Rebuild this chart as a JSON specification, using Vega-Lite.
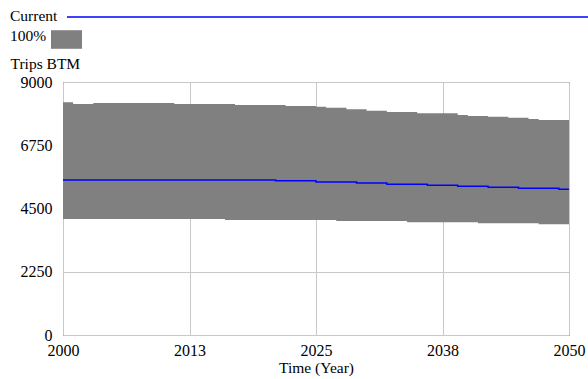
{
  "$schema": "https://vega.github.io/schema/vega-lite/v6.json",
  "width": 506,
  "height": 253,
  "autosize": {"type": "none"},
  "padding": {"left": 63, "top": 82, "right": 19, "bottom": 44},
  "background": "white",
  "config": {
    "font": "Liberation Serif",
    "view": {"stroke": "#222222", "strokeWidth": 1},
    "axis": {
      "grid": true, "gridColor": "#c8c8c8", "gridWidth": 1, "ticks": false, "domain": false,
      "labelFont": "Liberation Serif", "labelFontSize": 16, "labelColor": "#000000",
      "titleFont": "Liberation Serif", "titleFontSize": 15.5, "titleFontWeight": "normal", "titleColor": "#000000",
      "zindex": 1
    },
    "legend": {
      "titleFont": "Liberation Serif", "titleFontSize": 15.5, "titleFontWeight": "normal", "titleColor": "#000000",
      "labelFontSize": 1
    }
  },
  "data": {"values": [
    {"year": 2000, "hi": 8279, "lo": 4126, "cur": 5514},
    {"year": 2001, "hi": 8218, "lo": 4126, "cur": 5514},
    {"year": 2002, "hi": 8218, "lo": 4126, "cur": 5514},
    {"year": 2003, "hi": 8254, "lo": 4126, "cur": 5514},
    {"year": 2004, "hi": 8254, "lo": 4126, "cur": 5514},
    {"year": 2005, "hi": 8254, "lo": 4126, "cur": 5514},
    {"year": 2006, "hi": 8254, "lo": 4126, "cur": 5514},
    {"year": 2007, "hi": 8254, "lo": 4126, "cur": 5514},
    {"year": 2008, "hi": 8254, "lo": 4126, "cur": 5514},
    {"year": 2009, "hi": 8254, "lo": 4126, "cur": 5514},
    {"year": 2010, "hi": 8254, "lo": 4126, "cur": 5514},
    {"year": 2011, "hi": 8218, "lo": 4126, "cur": 5514},
    {"year": 2012, "hi": 8218, "lo": 4126, "cur": 5514},
    {"year": 2013, "hi": 8218, "lo": 4126, "cur": 5514},
    {"year": 2014, "hi": 8218, "lo": 4126, "cur": 5514},
    {"year": 2015, "hi": 8218, "lo": 4126, "cur": 5514},
    {"year": 2016, "hi": 8218, "lo": 4091, "cur": 5514},
    {"year": 2017, "hi": 8183, "lo": 4091, "cur": 5514},
    {"year": 2018, "hi": 8183, "lo": 4091, "cur": 5514},
    {"year": 2019, "hi": 8183, "lo": 4091, "cur": 5514},
    {"year": 2020, "hi": 8183, "lo": 4091, "cur": 5514},
    {"year": 2021, "hi": 8183, "lo": 4091, "cur": 5490},
    {"year": 2022, "hi": 8147, "lo": 4091, "cur": 5490},
    {"year": 2023, "hi": 8147, "lo": 4091, "cur": 5490},
    {"year": 2024, "hi": 8147, "lo": 4091, "cur": 5490},
    {"year": 2025, "hi": 8122, "lo": 4091, "cur": 5443},
    {"year": 2026, "hi": 8087, "lo": 4091, "cur": 5443},
    {"year": 2027, "hi": 8087, "lo": 4055, "cur": 5443},
    {"year": 2028, "hi": 8028, "lo": 4055, "cur": 5443},
    {"year": 2029, "hi": 8028, "lo": 4055, "cur": 5407},
    {"year": 2030, "hi": 7980, "lo": 4055, "cur": 5407},
    {"year": 2031, "hi": 7980, "lo": 4055, "cur": 5407},
    {"year": 2032, "hi": 7933, "lo": 4055, "cur": 5360},
    {"year": 2033, "hi": 7933, "lo": 4055, "cur": 5360},
    {"year": 2034, "hi": 7933, "lo": 4009, "cur": 5360},
    {"year": 2035, "hi": 7886, "lo": 4009, "cur": 5360},
    {"year": 2036, "hi": 7886, "lo": 4009, "cur": 5325},
    {"year": 2037, "hi": 7886, "lo": 4009, "cur": 5325},
    {"year": 2038, "hi": 7886, "lo": 4009, "cur": 5325},
    {"year": 2039, "hi": 7826, "lo": 4009, "cur": 5290},
    {"year": 2040, "hi": 7790, "lo": 4009, "cur": 5290},
    {"year": 2041, "hi": 7790, "lo": 3973, "cur": 5290},
    {"year": 2042, "hi": 7767, "lo": 3973, "cur": 5254},
    {"year": 2043, "hi": 7767, "lo": 3973, "cur": 5254},
    {"year": 2044, "hi": 7731, "lo": 3973, "cur": 5254},
    {"year": 2045, "hi": 7731, "lo": 3973, "cur": 5218},
    {"year": 2046, "hi": 7684, "lo": 3973, "cur": 5218},
    {"year": 2047, "hi": 7648, "lo": 3937, "cur": 5218},
    {"year": 2048, "hi": 7648, "lo": 3937, "cur": 5218},
    {"year": 2049, "hi": 7648, "lo": 3937, "cur": 5183},
    {"year": 2050, "hi": 7612, "lo": 3937, "cur": 5183}
  ]},
  "encoding": {
    "x": {
      "field": "year", "type": "quantitative",
      "scale": {"domain": [2000, 2050], "nice": false, "zero": false},
      "axis": {"values": [2000, 2012.5, 2025, 2037.5, 2050], "format": "d", "title": "Time (Year)", "labelFont": "Liberation Serif", "labelFontSize": 16, "labelPadding": 7, "labelFlush": false, "titlePadding": 2}
    }
  },
  "layer": [
    {
      "mark": {"type": "area", "interpolate": "step-after", "opacity": 1},
      "encoding": {
        "y": {
          "field": "hi", "type": "quantitative",
          "scale": {"domain": [0, 9000], "nice": false},
          "axis": {"values": [0, 2250, 4500, 6750, 9000], "format": "d", "labelFont": "Liberation Serif", "labelFontSize": 16, "title": "Trips BTM", "titleAngle": 0, "titleAlign": "left", "titleBaseline": "alphabetic", "titleX": -53, "titleY": -14, "labelPadding": 11}
        },
        "y2": {"field": "lo"},
        "fill": {
          "datum": "100%", "type": "nominal",
          "scale": {"range": ["#808080"]},
          "legend": {"title": "100%", "titleOrient": "left", "labelExpr": "''", "orient": "none", "legendX": -53, "legendY": -58, "symbolType": "M-1,-0.6L1,-0.6L1,0.6L-1,0.6Z", "symbolSize": 961, "symbolStrokeWidth": 0, "symbolOpacity": 1, "titlePadding": 4}
        }
      }
    },
    {
      "mark": {"type": "line", "interpolate": "step-after", "strokeWidth": 1.5},
      "encoding": {
        "y": {"field": "cur", "type": "quantitative"},
        "stroke": {
          "datum": "Current", "type": "nominal",
          "scale": {"range": ["#0000ff"]},
          "legend": {"title": "Current", "titleOrient": "left", "labelExpr": "''", "orient": "none", "legendX": -53, "legendY": -71, "symbolType": "M-1,0L110,0", "symbolSize": 100, "symbolStrokeWidth": 1.5, "titlePadding": 8}
        }
      }
    }
  ]
}
